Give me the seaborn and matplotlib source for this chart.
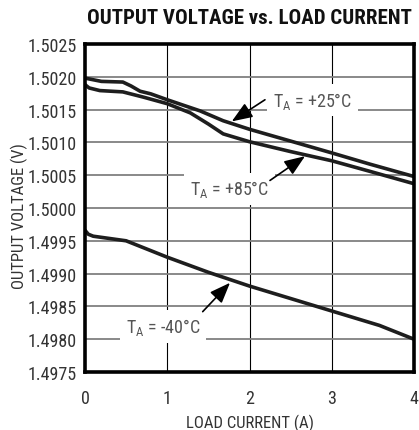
import matplotlib.pyplot as plt
import seaborn as sns
import pandas as pd

# curves
load_25 = [0.0, 0.2, 0.46, 0.56, 0.67, 0.8, 1.0, 1.4, 1.68, 2.0, 2.5, 3.0, 3.46, 4.0]
vout_25 = [1.50198, 1.50193, 1.50192, 1.50186, 1.50178, 1.50174, 1.50165, 1.50148,
           1.50133, 1.50120, 1.50102, 1.50084, 1.50067, 1.50048]

load_85 = [0.0, 0.05, 0.18, 0.46, 0.71, 1.0, 1.28, 1.5, 1.68, 2.0, 2.5, 3.0, 3.46, 4.0]
vout_85 = [1.50188, 1.50183, 1.50179, 1.50177, 1.50169, 1.50159, 1.50145, 1.50128,
           1.50113, 1.50101, 1.50086, 1.50072, 1.50056, 1.50037]

load_m40 = [0.0, 0.04, 0.1, 0.5, 1.0, 1.5, 2.0, 2.5, 3.0, 3.58, 4.0]
vout_m40 = [1.49966, 1.49960, 1.49957, 1.49950, 1.49925, 1.49902, 1.49881,
            1.49862, 1.49843, 1.49821, 1.49800]

xticks = [0, 1, 2, 3, 4]
yticks = [1.4975, 1.4980, 1.4985, 1.4990, 1.4995, 1.5000, 1.5005, 1.5010, 1.5015, 1.5020, 1.5025]

df = pd.concat([
    pd.DataFrame({'load': load_25, 'vout': vout_25, 'temp': '+25'}),
    pd.DataFrame({'load': load_85, 'vout': vout_85, 'temp': '+85'}),
    pd.DataFrame({'load': load_m40, 'vout': vout_m40, 'temp': '-40'}),
])

sns.set_style('white')
plt.rcParams['font.family'] = ['Roboto Condensed', 'DejaVu Sans']
plt.rcParams['font.stretch'] = 'condensed'

fig = plt.figure(figsize=(4.19, 4.31), dpi=100)
ax = fig.add_axes([85 / 419, 58 / 431, 329 / 419, 328 / 431])

for x in xticks[1:-1]:
    ax.axvline(x, color='black', lw=0.8, zorder=1)
for y in yticks[1:-1]:
    ax.axhline(y, color='#808080', lw=1.3, zorder=1)

sns.lineplot(data=df, x='load', y='vout', units='temp', estimator=None,
             color='#1e1e1e', lw=2.6, ax=ax, zorder=3, sort=False)

ax.set_xlim(0, 4)
ax.set_ylim(1.4975, 1.5025)
ax.set_xticks(xticks)
ax.set_yticks(yticks)
ax.set_yticklabels([f'{v:.4f}' for v in yticks])
ax.tick_params(labelsize=13, length=0, labelcolor='#333333')
ax.tick_params(axis='x', pad=12)
ax.tick_params(axis='y', pad=6)
for s in ax.spines.values():
    s.set_linewidth(2.6)
    s.set_color('black')
    s.set_zorder(5)

ax.set_xlabel('LOAD CURRENT (A)', fontsize=12, color='#333333')
ax.xaxis.set_label_coords(0.5, -0.128)
ax.set_ylabel('OUTPUT VOLTAGE (V)', fontsize=12, color='#333333')
ax.yaxis.set_label_coords(-0.174, 0.479)
fig.text(249 / 419, 1 - 19 / 431, 'OUTPUT VOLTAGE vs. LOAD CURRENT', fontsize=15,
         fontweight='bold', ha='center', va='center', color='#111111')

box = dict(facecolor='white', edgecolor='none', pad=4)
arrow = dict(arrowstyle='-|>,head_length=0.9,head_width=0.35', color='black', lw=1.2,
             mutation_scale=14, shrinkA=0, shrinkB=0)
labels = [
    (r'T$_\mathregular{A}$ = +25°C', 2.286, 1.50156, (2.188, 1.50165), (1.784, 1.50132)),
    (r'T$_\mathregular{A}$ = +85°C', 1.277, 1.50021, (2.249, 1.50042), (2.675, 1.50079)),
    (r'T$_\mathregular{A}$ = -40°C', 0.498, 1.49811, (1.431, 1.49842), (1.763, 1.49886)),
]
for txt, tx, ty, tail, tip in labels:
    ax.text(tx, ty, txt, fontsize=13, color='#555555', ha='left', va='baseline',
            bbox=box, zorder=4)
    ax.annotate('', xy=tip, xytext=tail, arrowprops=arrow, zorder=4)

fig.savefig('out.png', dpi=100)
